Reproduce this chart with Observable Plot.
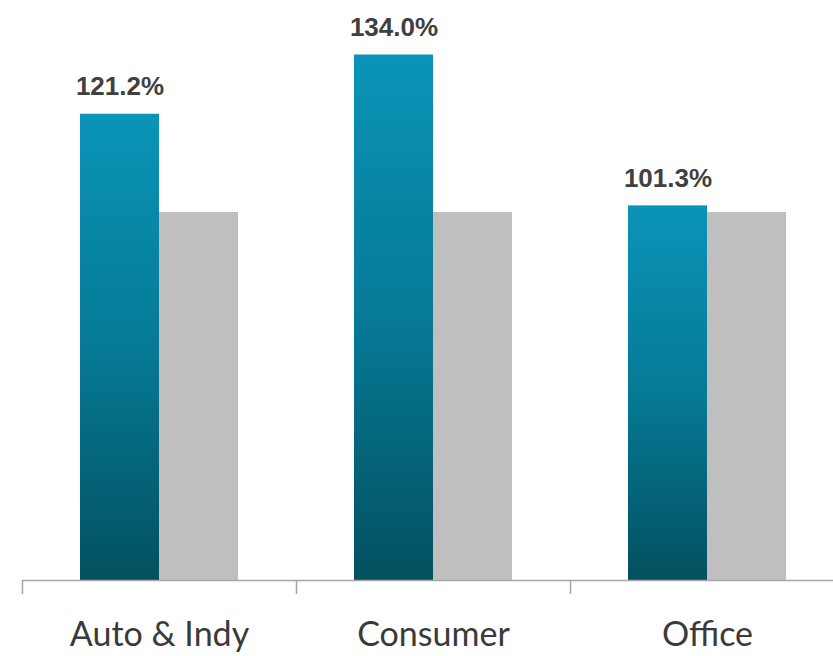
<!DOCTYPE html>
<html>
<head>
<meta charset="utf-8">
<script src="https://cdn.jsdelivr.net/npm/d3@7"></script>
<script src="https://cdn.jsdelivr.net/npm/@observablehq/plot@0.6"></script>
<style>
  html, body { margin: 0; padding: 0; background: #ffffff; }
  #chart { width: 833px; height: 656px; overflow: hidden; }
</style>
</head>
<body>
<div id="chart"></div>
<script>
// Categories and values (bar heights, in % of baseline)
const categories = ["Auto & Indy", "Consumer", "Office"];
const actualValues = [126.7, 142.8, 101.8];
const baselineValues = [100, 100, 100];
const valueLabels = ["121.2%", "134.0%", "101.3%"];

const rows = [];
categories.forEach((c, i) => {
  rows.push({category: c, series: "actual", value: actualValues[i], label: valueLabels[i]});
  rows.push({category: c, series: "baseline", value: baselineValues[i], label: ""});
});
const actualRows = rows.filter(d => d.series === "actual");

const gradientDefs = () => {
  const ns = "http://www.w3.org/2000/svg";
  const defs = document.createElementNS(ns, "defs");
  const lg = document.createElementNS(ns, "linearGradient");
  lg.setAttribute("id", "tealGrad");
  lg.setAttribute("x1", "0"); lg.setAttribute("y1", "0");
  lg.setAttribute("x2", "0"); lg.setAttribute("y2", "1");
  [["0%", "#0a94b8"], ["50%", "#067a96"], ["100%", "#03505f"]].forEach(([o, c]) => {
    const s = document.createElementNS(ns, "stop");
    s.setAttribute("offset", o);
    s.setAttribute("stop-color", c);
    lg.appendChild(s);
  });
  defs.appendChild(lg);
  return defs;
};

const chart = Plot.plot({
  width: 833,
  height: 656,
  marginLeft: 22,
  marginRight: -11,
  marginTop: 28,
  marginBottom: 76,
  style: {background: "#ffffff"},
  fx: {domain: categories, paddingInner: 0, paddingOuter: 0, label: null, axis: null},
  x: {domain: ["actual", "baseline"], paddingInner: 0, paddingOuter: 0.734, axis: null},
  y: {domain: [0, 150], axis: null},
  marks: [
    gradientDefs,
    Plot.barY(rows, {
      fx: "category",
      x: "series",
      y: "value",
      fill: d => d.series === "actual" ? "url(#tealGrad)" : "#bfbfbf",
      insetLeft: 0,
      insetRight: 0
    }),
    Plot.ruleY([0], {stroke: "#a6a6a6", strokeWidth: 1.5}),
    Plot.text(actualRows, {
      fx: "category",
      x: "series",
      y: "value",
      text: "label",
      dy: -19,
      lineAnchor: "bottom",
      fontFamily: "'Liberation Sans', sans-serif",
      fontWeight: "bold",
      fontSize: 26,
      fill: "#404040"
    }),
    Plot.axisFx({
      anchor: "bottom",
      tickSize: 14,
      dx: -137,
      tickFormat: () => "",
      stroke: "#a6a6a6",
      strokeWidth: 1.5,
      label: null
    }),
    Plot.axisFx({
      anchor: "bottom",
      tickSize: 0,
      tickPadding: 41,
      fontSize: 34,
      fontFamily: "Lato, sans-serif",
      fill: "#3a3a3a",
      label: null
    })
  ]
});

document.getElementById("chart").appendChild(chart);
</script>
</body>
</html>
